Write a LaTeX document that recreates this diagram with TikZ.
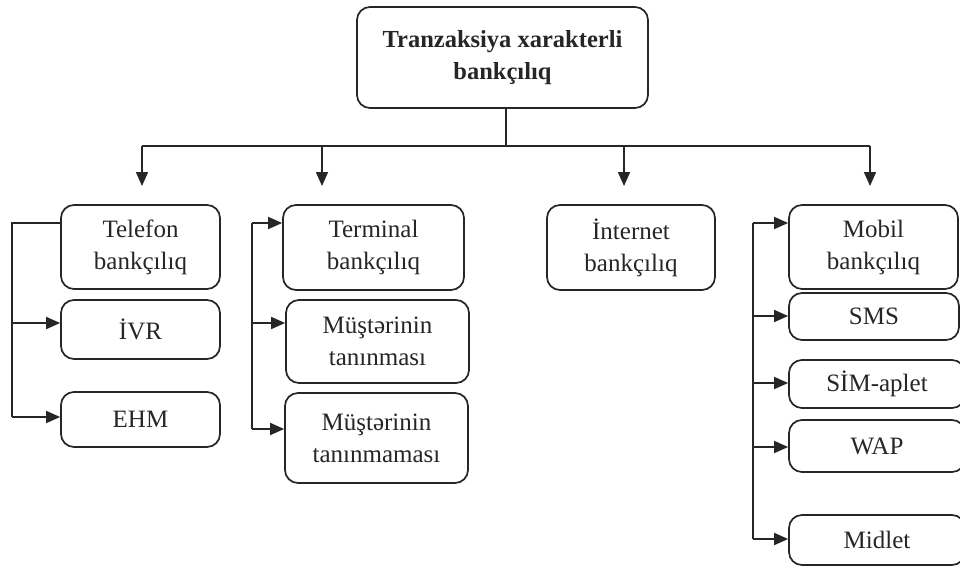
\documentclass[tikz,border=0pt]{standalone}
\usepackage{fontspec}
\setmainfont{Liberation Serif}
\usetikzlibrary{arrows.meta}
\begin{document}
\begin{tikzpicture}[x=1pt,y=-1pt,
  box/.style={draw=black!85, line width=1.7pt, rounded corners=13pt, align=center,
    inner sep=0pt, font=\fontsize{25}{32}\selectfont, text=black!85},
  link/.style={draw=black!85, line width=1.6pt},
  arr/.style={link, -{Triangle[length=14pt,width=12pt]}}]
\clip (0,0) rectangle (960,567);
\fill[white] (0,0) rectangle (960,567);

% root
\node[box, minimum width=291pt, minimum height=101pt, font=\fontsize{24.5}{32}\selectfont\bfseries]
  (root) at (502.5,57.5) {Tranzaksiya xarakterli\\bankçılıq};

% second level
\node[box, minimum width=159pt, minimum height=84pt] (tel)  at (140.5,247) {Telefon\\bankçılıq};
\node[box, minimum width=181pt, minimum height=85pt] (term) at (373.5,247.5) {Terminal\\bankçılıq};
\node[box, minimum width=168pt, minimum height=85pt] (inet) at (631,247.5) {İnternet\\bankçılıq};
\node[box, minimum width=169pt, minimum height=84pt] (mob)  at (873.5,247) {Mobil\\bankçılıq};

% telephone banking
\node[box, minimum width=159pt, minimum height=59pt] (ivr) at (140.5,329.5) {İVR};
\node[box, minimum width=159pt, minimum height=55pt] (ehm) at (140.5,419.5) {EHM};

% terminal banking
\node[box, minimum width=183pt, minimum height=83pt] (mus1) at (377.5,341.5) {Müştərinin\\tanınması};
\node[box, minimum width=183pt, minimum height=90pt] (mus2) at (376.5,438) {Müştərinin\\tanınmaması};

% mobile banking
\node[box, minimum width=170pt, minimum height=47pt] (sms) at (874,316.5) {SMS};
\node[box, minimum width=176pt, minimum height=48pt] (sim) at (877,384) {SİM-aplet};
\node[box, minimum width=176pt, minimum height=52pt] (wap) at (877,446) {WAP};
\node[box, minimum width=176pt, minimum height=50pt] (mid) at (877,540) {Midlet};

% distribution bus under the root
\coordinate (bus) at (506,146);
\coordinate (b1) at (142,146);
\coordinate (b2) at (322,146);
\coordinate (b3) at (624,146);
\coordinate (b4) at (870,146);
\coordinate (e1) at (142,186);
\coordinate (e2) at (322,186);
\coordinate (e3) at (624,186);
\coordinate (e4) at (870,186);
\draw[link] (root.south -| bus) -- (bus);
\draw[link] (b1) -- (b4);
\draw[arr] (b1) -- (e1);
\draw[arr] (b2) -- (e2);
\draw[arr] (b3) -- (e3);
\draw[arr] (b4) -- (e4);

% telephone bracket
\coordinate (t0) at (12,223);
\coordinate (t1) at (12,323);
\coordinate (t2) at (12,417);
\draw[link] (tel.west |- t0) -- (t0) -- (t2);
\draw[arr] (t1) -- (ivr.west |- t1);
\draw[arr] (t2) -- (ehm.west |- t2);

% terminal bracket
\coordinate (r0) at (252,223);
\coordinate (r1) at (252,323);
\coordinate (r2) at (252,429);
\draw[link] (r0) -- (r2);
\draw[arr] (r0) -- (term.west |- r0);
\draw[arr] (r1) -- (mus1.west |- r1);
\draw[arr] (r2) -- (mus2.west |- r2);

% mobile bracket
\coordinate (m0) at (753,223);
\coordinate (m1) at (753,316);
\coordinate (m2) at (753,383);
\coordinate (m3) at (753,447);
\coordinate (m4) at (753,539);
\draw[link] (m0) -- (m4);
\draw[arr] (m0) -- (mob.west |- m0);
\draw[arr] (m1) -- (sms.west |- m1);
\draw[arr] (m2) -- (sim.west |- m2);
\draw[arr] (m3) -- (wap.west |- m3);
\draw[arr] (m4) -- (mid.west |- m4);
\end{tikzpicture}
\end{document}
